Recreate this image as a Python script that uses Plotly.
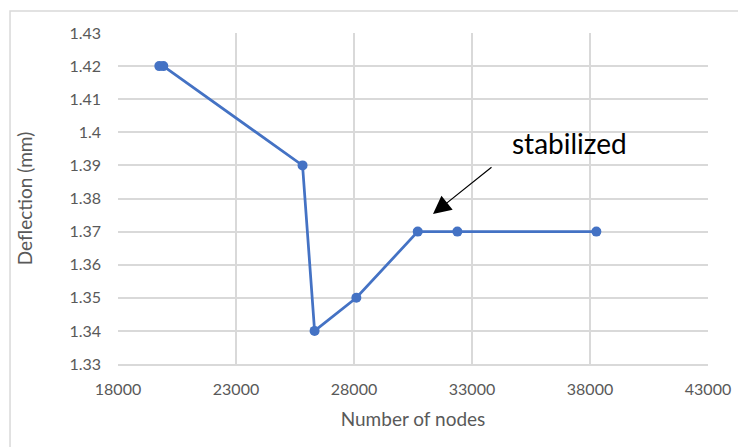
import plotly.graph_objects as go

nodes = [19750, 19920, 25820, 26330, 28100, 30700, 32380, 38270]
deflection = [1.42, 1.42, 1.39, 1.34, 1.35, 1.37, 1.37, 1.37]

x_ticks = [18000, 23000, 28000, 33000, 38000, 43000]
y_ticks = [1.33, 1.34, 1.35, 1.36, 1.37, 1.38, 1.39, 1.40, 1.41, 1.42, 1.43]
y_tick_labels = ["1.33", "1.34", "1.35", "1.36", "1.37", "1.38", "1.39", "1.4", "1.41", "1.42", "1.43"]

FONT = "Lato, Carlito, sans-serif"
GRID = "#d9d9d9"
TICK = "#595959"

fig = go.Figure()
fig.add_trace(go.Scatter(
    x=nodes, y=deflection, mode="lines+markers",
    line=dict(color="#4472C4", width=2.75),
    marker=dict(color="#4472C4", size=10),
    showlegend=False, cliponaxis=False,
))

fig.update_layout(
    width=738, height=439,
    margin=dict(l=110, r=38, t=25, b=83),
    paper_bgcolor="white", plot_bgcolor="white",
    font=dict(family=FONT, color=TICK, size=16),
    xaxis=dict(
        range=[18000, 43000], tickvals=x_ticks, ticktext=[str(v) for v in x_ticks],
        showgrid=True, gridcolor=GRID, gridwidth=1.5,
        showline=True, linecolor=GRID, linewidth=1.5, mirror=False,
        zeroline=False, ticks="", ticklabelstandoff=10,
        tickfont=dict(size=16, color=TICK),
        title=dict(text="Number of nodes", font=dict(size=19, color=TICK), standoff=16),
    ),
    yaxis=dict(
        range=[1.33, 1.43], tickvals=y_ticks, ticktext=y_tick_labels,
        showgrid=True, gridcolor=GRID, gridwidth=1.5,
        showline=False, zeroline=False, ticks="", ticklabelstandoff=16,
        tickfont=dict(size=16, color=TICK),
        title=dict(text="Deflection (mm)", font=dict(size=19, color=TICK), standoff=31),
    ),
    shapes=[dict(
        type="rect", xref="paper", yref="paper",
        x0=-0.183, x1=1.3, y0=-0.5, y1=1.0665,
        line=dict(color=GRID, width=1.5), fillcolor="rgba(0,0,0,0)", layer="below",
    )],
    annotations=[
        dict(x=37150, y=1.3968, xref="x", yref="y", text="stabilized",
             showarrow=False, font=dict(size=28, color="black", family=FONT)),
        dict(x=31347, y=1.3753, xref="x", yref="y", ax=33890, ay=1.3898,
             axref="x", ayref="y", text="", showarrow=True,
             arrowhead=2, arrowsize=3, arrowwidth=1.2, arrowcolor="black"),
    ],
)

fig.write_html("out.html")
